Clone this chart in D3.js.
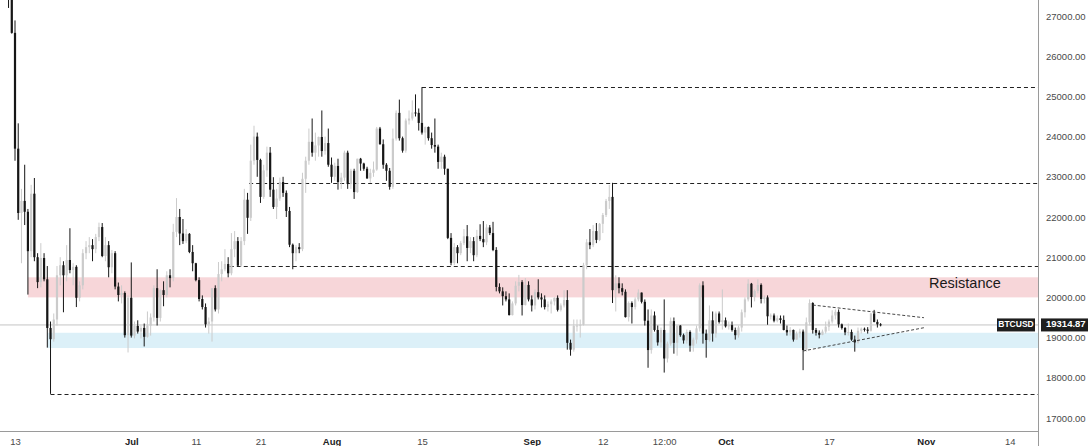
<!DOCTYPE html>
<html><head><meta charset="utf-8">
<script src="https://cdn.jsdelivr.net/npm/d3@7"></script>
<style>html,body{margin:0;padding:0;background:#fff;overflow:hidden}</style>
</head><body><svg id="c" width="1088" height="446"></svg>
<script>
// ---------- DATA ----------
const firstBarTime = "2022-06-12T00:00:00Z";
const barHours = 12;
// 12h candles [open, high, low, close], BTCUSD
const candleOHLC = [
[28380,28560,27200,27500],[27500,27650,26560,26580],
[26580,26890,23400,23700],[23700,24330,21930,22100],
[22100,22700,20850,22400],[22400,23300,21800,22130],
[22130,22200,20070,21150],[21150,22800,21000,22580],
[22580,22970,20900,21000],[21000,21100,20230,20380],
[20380,21350,20250,20980],[20980,21100,20400,20450],
[20450,20780,18750,19240],[19240,19400,17600,18960],
[18960,19600,18900,19450],[19450,20780,19300,20550],
[20550,21000,20300,20800],[20800,20900,19630,20550],
[20550,21300,20400,20930],[20930,21720,20600,20680],
[20680,20850,20300,20760],[20760,20800,19760,19990],
[19990,20400,19900,20300],[20300,21200,20200,21100],
[21100,21400,20950,21250],[21250,21500,21100,21300],
[21300,21450,20900,21200],[21200,21580,21100,21500],
[21500,21860,21400,21750],[21750,21850,21000,21030],
[21030,21500,20900,21300],[21300,21400,20500,20750],
[20750,21180,20600,21100],[21100,21150,20200,20270],
[20270,20370,19900,20060],[20060,20300,19850,20110],
[20110,20150,19000,19060],[19060,20050,18630,19990],
[19990,20870,19000,19050],[19050,19400,18980,19290],
[19290,19430,19100,19150],[19150,19300,18980,19240],
[19240,19350,18780,19020],[19020,19650,19000,19300],
[19300,19600,19050,19500],[19500,20300,19400,20230],
[20230,20700,19300,19490],[19490,20200,19400,20180],
[20180,20400,19780,20060],[20060,20650,20000,20550],
[20550,20700,20250,20480],[20480,21830,20400,21630],
[21630,22470,21500,22000],[22000,22200,21300,21590],
[21590,21950,21330,21400],[21400,21700,21350,21580],
[21580,21600,21100,21130],[21130,21300,20650,20850],
[20850,20860,20400,20430],[20430,20500,19900,19960],
[19960,20050,19700,19760],[19760,19850,19250,19330],
[19330,19500,19100,19400],[19400,20200,18900,20230],
[20230,20300,19650,19700],[19700,20880,19600,20580],
[20580,20900,20400,20700],[20700,21200,20650,20830],
[20830,21000,20500,20600],[20600,21600,20550,21200],
[21200,21650,21000,21400],[21400,21500,20760,20790],
[20790,21500,20760,21400],[21400,22700,21300,22430],
[22430,22600,21580,21980],[21980,23800,21900,23400],
[23400,24270,23300,24000],[24000,24100,23000,23420],
[23420,23450,22350,22500],[22500,23300,22450,23160],
[23160,23750,23000,23600],[23600,23740,22500,22680],
[22680,22990,22200,22250],[22250,22700,21950,22460],
[22460,22980,22400,22870],[22870,23000,22500,22600],
[22600,22660,22000,22150],[22150,22250,21250,21310],
[21310,21340,20700,21100],[21100,21300,20900,21250],
[21250,21350,21100,21200],[21200,23100,21150,22950],
[22950,23500,22600,23400],[23400,24200,23300,23870],
[23870,24450,23500,23600],[23600,24100,23400,23780],
[23780,24000,23500,23990],[23990,24650,23500,23640],
[23640,24000,23550,23840],[23840,24200,23250,23300],
[23300,23480,22850,23000],[23000,23350,22900,23270],
[23270,23450,22680,22870],[22870,23100,22700,22980],
[22980,23650,22900,23600],[23600,23650,22700,22820],
[22820,23200,22700,23150],[23150,23200,22450,22620],
[22620,23450,22600,23450],[23450,23470,23150,23330],
[23330,23350,23150,23200],[23200,23250,22950,22960],
[22960,23200,22850,23100],[23100,23380,23000,23180],
[23180,24240,23150,24200],[24200,24240,23800,23810],
[23810,23930,23200,23300],[23300,23340,22900,23150],
[23150,23220,22680,22750],[22750,24200,22700,23950],
[23950,24650,23900,24590],[24590,24920,23900,23960],
[23960,24000,23600,23650],[23650,24450,23600,24400],
[24400,24650,24300,24450],[24450,24900,24400,24600],
[24600,25050,24500,24590],[24590,24700,24150,24340],
[24340,25230,24050,24100],[24100,24250,23800,24240],
[24240,24250,23900,23960],[23960,24100,23700,23790],
[23790,24450,23600,23750],[23750,23800,23200,23370],
[23370,23600,23200,23500],[23500,23550,23050,23200],
[23200,23200,21450,21480],[21480,21600,20800,20860],
[20860,21350,20800,21250],[21250,21300,20850,21100],
[21100,21400,21050,21350],[21350,21700,21300,21520],
[21520,21800,20900,21230],[21230,21500,21100,21400],
[21400,21500,20900,21050],[21050,21680,21000,21530],
[21530,21820,21400,21450],[21450,21900,21250,21370],
[21370,21820,21300,21740],[21740,21800,21550,21600],
[21600,21880,21150,21180],[21180,21250,20150,20260],
[20260,20350,20100,20150],[20150,20250,19800,20030],
[20030,20150,19900,19950],[19950,20100,19550,19560],
[19560,19900,19550,19850],[19850,20400,19800,20290],
[20290,20560,20150,20380],[20380,20430,19550,19810],
[19810,20480,19800,20310],[20310,20400,19900,19950],
[19950,20050,19650,19800],[19800,20200,19700,20130],
[20130,20450,19950,20000],[20000,20100,19750,19950],
[19950,20050,19700,19760],[19760,19900,19650,19830],
[19830,19950,19600,19900],[19900,20000,19800,19990],
[19990,20050,19650,19690],[19690,19850,19650,19800],
[19800,20180,19750,19935],[19935,20180,18700,18870],
[18870,18950,18550,18700],[18700,19450,18650,19290],
[19290,19450,19150,19300],[19300,19450,19000,19320],
[19320,20860,19300,20800],[20800,21450,20700,21370],
[21370,21700,21200,21300],[21300,21800,21250,21650],
[21650,21850,21350,21430],[21430,21850,21400,21830],
[21830,22100,21600,22050],[22050,22450,22000,22400],
[22400,22800,22200,22500],[22500,22850,19860,20180],
[20180,20550,19650,20350],[20350,20500,20100,20230],
[20230,20350,20050,20140],[20140,20200,19500,19510],
[19510,19900,19400,19860],[19860,19900,19350,19760],
[19760,20000,19700,19950],[19950,20200,19900,20120],
[20120,20120,19850,19890],[19890,19950,19300,19420],
[19420,19700,18250,18690],[18690,19700,18600,19550],
[19550,19650,19150,19190],[19190,19300,18800,18880],
[18880,19250,18750,19190],[19190,19950,18130,18480],
[18480,18900,18380,18850],[18850,19500,18800,19410],
[19410,19500,18600,18870],[18870,19300,18550,19300],
[19300,19310,19020,19060],[19060,19100,18850,18930],
[18930,19200,18850,19140],[19140,19180,18650,18800],
[18800,19000,18650,18950],[18950,19300,18850,19230],
[19230,20350,19150,20300],[20300,20400,18850,19100],
[19100,19200,18500,18940],[18940,19800,18900,19430],
[19430,19650,18900,19100],[19100,19650,19000,19600],
[19600,19650,19350,19390],[19390,20200,19200,19430],
[19430,19500,19250,19280],[19280,19400,19200,19310],
[19310,19400,19150,19190],[19190,19250,18950,19060],
[19060,19300,19000,19250],[19250,19700,19150,19630],
[19630,20000,19500,19950],[19950,20450,19900,20340],
[20340,20360,19750,20010],[20010,20200,19900,20160],
[20160,20450,20100,20310],[20310,20350,19850,19960],
[19960,20050,19850,20000],[20000,20050,19320,19530],
[19530,19600,19450,19550],[19550,19600,19380,19420],
[19420,19550,19380,19480],[19480,19550,19350,19440],
[19440,19550,19180,19190],[19190,19300,19050,19130],
[19130,19260,19050,19190],[19190,19200,18900,18950],
[18950,19150,18950,19100],[19100,19220,19000,19150],
[19150,19200,18190,18690],[18690,19500,18650,19380],
[19380,19950,19300,19860],[19860,19880,19100,19190],
[19190,19240,19050,19120],[19120,19180,18980,19070],
[19070,19200,19060,19150],[19150,19400,19100,19270],
[19270,19450,19170,19400],[19400,19680,19350,19550],
[19550,19700,19450,19640],[19640,19700,19250,19330],
[19330,19350,19200,19240],[19240,19260,19060,19130],
[19130,19350,19050,19140],[19140,19200,18920,18950],
[18950,19050,18650,18880],[18880,19250,18850,19170],
[19170,19250,19100,19220],[19220,19250,19150,19200],
[19200,19260,19100,19170],[19170,19610,19150,19600],
[19600,19690,19380,19390],[19390,19450,19250,19330],
[19330,19360,19280,19315]
];
const priceTicks = [17000,18000,19000,20000,21000,22000,23000,24000,25000,26000,27000];
const timeTickDates = ["2022-06-13T00:00Z","2022-07-01T00:00Z","2022-07-11T00:00Z","2022-07-21T00:00Z","2022-08-01T00:00Z","2022-08-15T00:00Z","2022-09-01T00:00Z","2022-09-12T00:00Z","2022-09-21T12:00Z","2022-10-01T00:00Z","2022-10-17T00:00Z","2022-11-01T00:00Z","2022-11-14T00:00Z"];
const timeTickLabels = ["13","Jul","11","21","Aug","15","Sep","12","12:00","Oct","17","Nov","14"];
const monthLabels = ["Jul","Aug","Sep","Oct","Nov"];
// horizontal dashed levels
const levelPrices = [25230, 22846, 20790, 17600];
const levelStartDates = ["2022-08-15T00:00Z","2022-07-19T06:00Z","2022-07-16T06:00Z","2022-06-18T12:00Z"];
// zones
const zoneNames = ["resistance","support"];
const zoneHighs = [20500, 19120];
const zoneLows = [20000, 18740];
const zoneStartDates = ["2022-06-15T00:00Z","2022-06-18T00:00Z"];
// triangle
const triUpperDates = ["2022-10-14T12:00Z","2022-10-31T17:00Z"];
const triUpperPrices = [19810, 19495];
const triLowerDates = ["2022-10-13T00:00Z","2022-10-31T17:00Z"];
const triLowerPrices = [18667, 19246];
const symbolName = "BTCUSD";
const lastPrice = 19314.87;
const annotationText = "Resistance";

// ---------- LAYOUT ----------
const W = 1088, H = 446, plotR = 1038, plotB = 431;
const svg = d3.select("#c");
const x = d3.scaleUtc().domain([new Date("2022-06-13T00:00Z"), new Date("2022-11-14T00:00Z")]).range([15, 1009.8]);
const y = d3.scaleLinear().domain([17000, 27000]).range([418, 16]);
const t0 = new Date(firstBarTime).getTime();
const bars = candleOHLC.map((d, i) => ({t: new Date(t0 + i * barHours * 3600e3), o: d[0], h: d[1], l: d[2], c: d[3]}));
const font = "'Liberation Sans', Arial, sans-serif";

svg.append("defs").append("clipPath").attr("id", "plot").append("rect").attr("x", 0).attr("y", 0).attr("width", plotR).attr("height", plotB);
const g = svg.append("g").attr("clip-path", "url(#plot)");

// zones
const zoneColors = ["#f7d6d9", "#dcf0f8"];
zoneNames.forEach((n, i) => {
  g.append("rect").attr("x", x(new Date(zoneStartDates[i]))).attr("y", y(zoneHighs[i]))
    .attr("width", plotR - x(new Date(zoneStartDates[i]))).attr("height", y(zoneLows[i]) - y(zoneHighs[i]))
    .attr("fill", zoneColors[i]);
});

// last price line
g.append("line").attr("x1", 0).attr("x2", plotR).attr("y1", y(lastPrice)).attr("y2", y(lastPrice))
  .attr("stroke", "#c4c4c4").attr("stroke-width", 1);

// dashed levels
levelPrices.forEach((p, i) => {
  g.append("line").attr("x1", x(new Date(levelStartDates[i]))).attr("x2", plotR)
    .attr("y1", Math.round(y(p)) + 0.5).attr("y2", Math.round(y(p)) + 0.5)
    .attr("stroke", "#222").attr("stroke-width", 1).attr("stroke-dasharray", "4,3");
});

// candles
const bw = 2.2;
const cg = g.append("g");
bars.forEach(b => {
  const up = b.c >= b.o;
  const col = up ? "#cbcbcb" : "#161616";
  const cx = x(b.t);
  cg.append("line").attr("x1", cx).attr("x2", cx).attr("y1", y(b.h)).attr("y2", y(b.l))
    .attr("stroke", col).attr("stroke-width", 1);
  const top = y(Math.max(b.o, b.c)), bot = y(Math.min(b.o, b.c));
  cg.append("rect").attr("x", cx - bw / 2).attr("y", top).attr("width", bw).attr("height", Math.max(1, bot - top))
    .attr("fill", col);
});

// triangle
[[triUpperDates, triUpperPrices], [triLowerDates, triLowerPrices]].forEach(([ds, ps]) => {
  g.append("line").attr("x1", x(new Date(ds[0]))).attr("y1", y(ps[0])).attr("x2", x(new Date(ds[1]))).attr("y2", y(ps[1]))
    .attr("stroke", "#333").attr("stroke-width", 0.9).attr("stroke-dasharray", "3,2");
});

// annotation
g.append("text").attr("x", x(new Date("2022-11-01T12:00Z"))).attr("y", y(20320))
  .attr("dominant-baseline", "middle").attr("font-family", font).attr("font-size", 14.5).attr("fill", "#1a1a1a")
  .text(annotationText);

// axes lines
svg.append("line").attr("x1", 0).attr("x2", plotR).attr("y1", plotB + 0.5).attr("y2", plotB + 0.5).attr("stroke", "#9a9a9a");
svg.append("line").attr("x1", plotR + 0.5).attr("x2", plotR + 0.5).attr("y1", 0).attr("y2", H).attr("stroke", "#9a9a9a");

// right axis
const ya = svg.append("g").attr("transform", `translate(${plotR},0)`)
  .call(d3.axisRight(y).tickValues(priceTicks).tickFormat(d3.format(".2f")).tickSize(0).tickPadding(8));
ya.select(".domain").remove();
ya.selectAll("text").attr("font-family", font).attr("font-size", 9.5).attr("fill", "#4a4a4a");

// bottom axis
const tickDates = timeTickDates.map(d => new Date(d));
const xa = svg.append("g").attr("transform", `translate(0,${plotB})`)
  .call(d3.axisBottom(x).tickValues(tickDates).tickFormat((d, i) => timeTickLabels[i]).tickSize(0).tickPadding(7));
xa.select(".domain").remove();
xa.selectAll("text").attr("font-family", font).attr("font-size", 9.5)
  .attr("fill", (d, i) => monthLabels.includes(timeTickLabels[i]) ? "#222" : "#4a4a4a")
  .attr("font-weight", (d, i) => monthLabels.includes(timeTickLabels[i]) ? "bold" : "normal");

// last price labels
const ly = y(lastPrice);
svg.append("rect").attr("x", 997).attr("y", ly - 6.5).attr("width", 38).attr("height", 13).attr("fill", "#1e1e1e");
svg.append("text").attr("x", 1016).attr("y", ly).attr("text-anchor", "middle").attr("dominant-baseline", "middle")
  .attr("font-family", font).attr("font-size", 8.5).attr("font-weight", "bold").attr("fill", "#fff").text(symbolName);
svg.append("rect").attr("x", plotR + 3).attr("y", ly - 6.5).attr("width", W - plotR - 3).attr("height", 13).attr("fill", "#1e1e1e");
svg.append("text").attr("x", plotR + 8).attr("y", ly).attr("dominant-baseline", "middle")
  .attr("font-family", font).attr("font-size", 9.5).attr("font-weight", "bold").attr("fill", "#fff").text(d3.format(".2f")(lastPrice));
</script></body></html>
